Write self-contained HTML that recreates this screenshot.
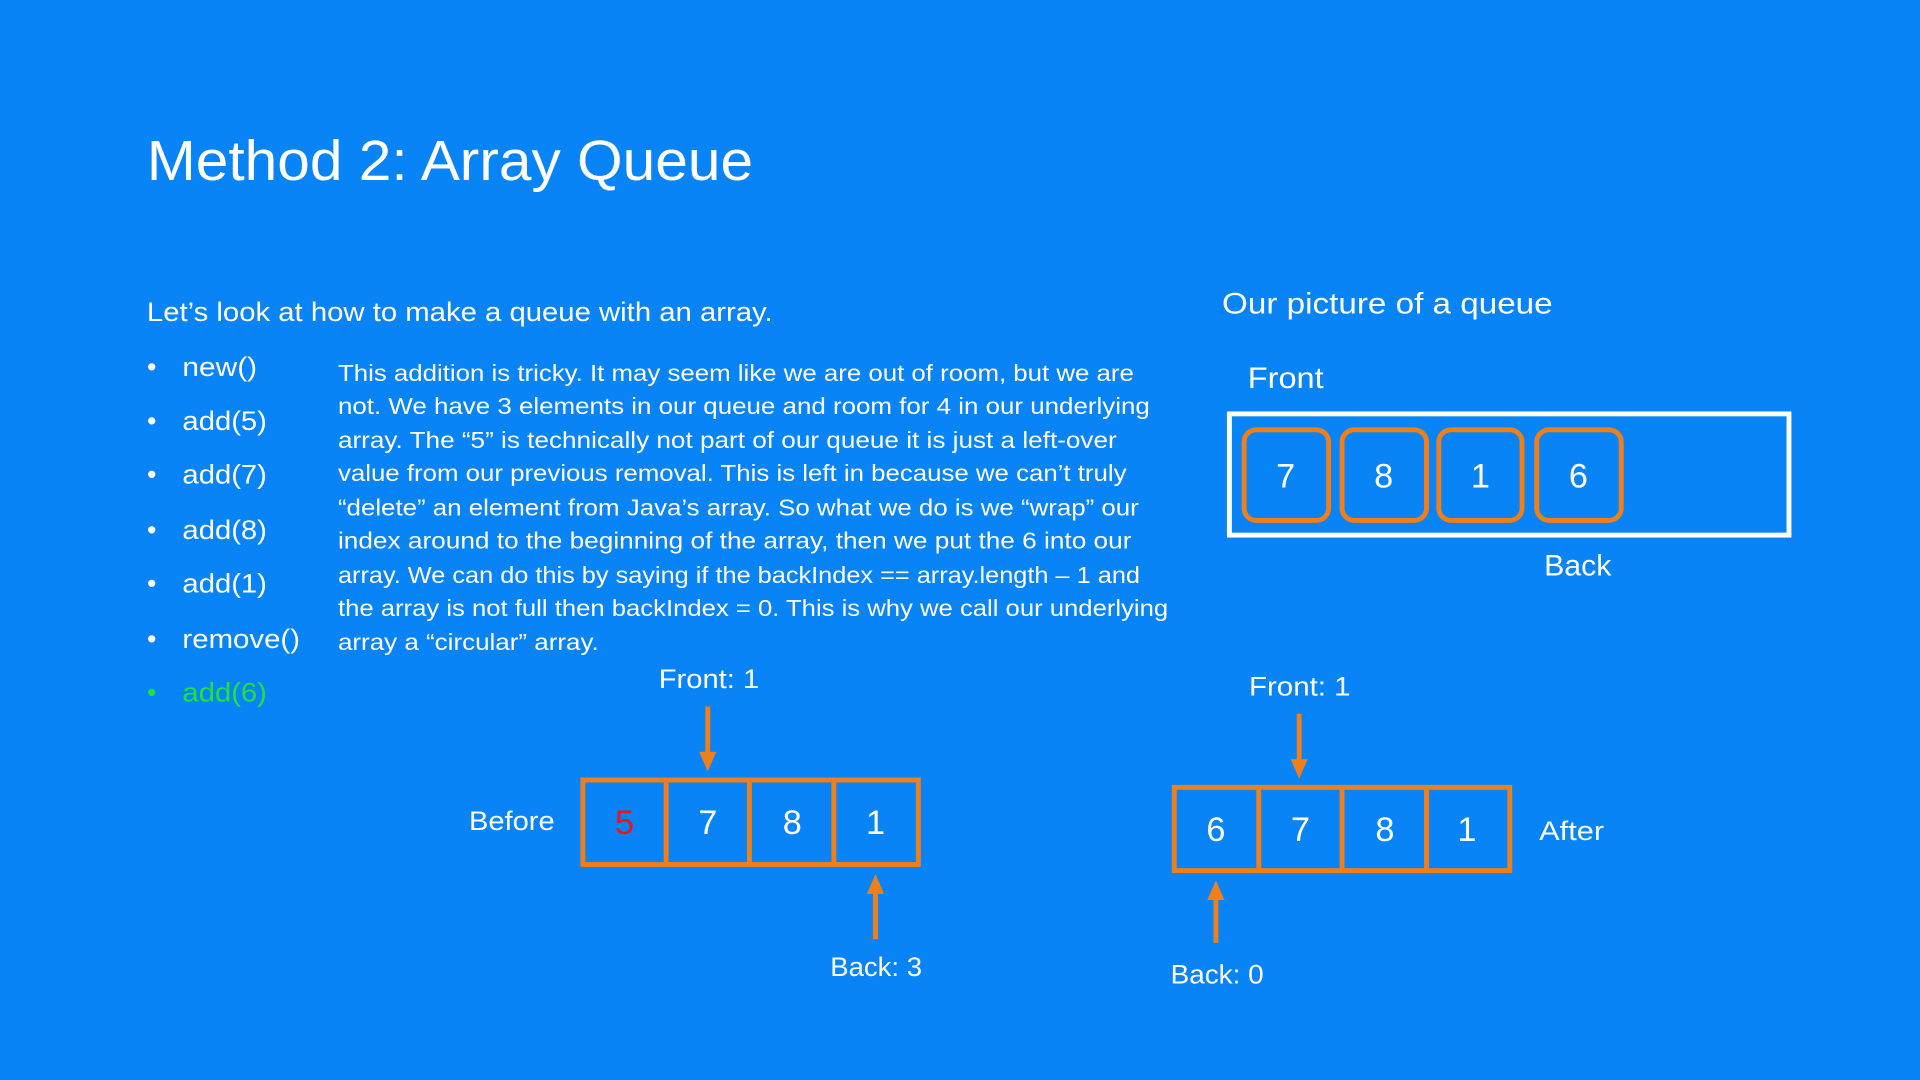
<!DOCTYPE html>
<html><head><meta charset="utf-8"><style>
html,body{margin:0;padding:0;background:#0984F7;}
svg{display:block}
text{font-family:"Liberation Sans",sans-serif;fill:#fff}
</style></head><body>
<svg width="1920" height="1080" viewBox="0 0 1568 882" xmlns="http://www.w3.org/2000/svg">
<rect width="1568" height="882" fill="#0984F7"/>
<text x="120" y="147" font-size="46" textLength="495" lengthAdjust="spacingAndGlyphs">Method 2: Array Queue</text>
<text x="120" y="262" font-size="22" textLength="511" lengthAdjust="spacingAndGlyphs">Let’s look at how to make a queue with an array.</text>
<g font-size="22">
<text x="120" y="307">•</text><text x="149" y="307" textLength="61" lengthAdjust="spacingAndGlyphs">new()</text>
<text x="120" y="351">•</text><text x="149" y="351" textLength="69" lengthAdjust="spacingAndGlyphs">add(5)</text>
<text x="120" y="395">•</text><text x="149" y="395" textLength="69" lengthAdjust="spacingAndGlyphs">add(7)</text>
<text x="120" y="440">•</text><text x="149" y="440" textLength="69" lengthAdjust="spacingAndGlyphs">add(8)</text>
<text x="120" y="484">•</text><text x="149" y="484" textLength="69" lengthAdjust="spacingAndGlyphs">add(1)</text>
<text x="120" y="529">•</text><text x="149" y="529" textLength="96" lengthAdjust="spacingAndGlyphs">remove()</text>
<text x="120" y="573" style="fill:#1ee33a">•</text><text x="149" y="573" style="fill:#1ee33a" textLength="69" lengthAdjust="spacingAndGlyphs">add(6)</text>
</g>
<g font-size="19" lengthAdjust="spacingAndGlyphs">
<text x="276" y="311" textLength="650" lengthAdjust="spacingAndGlyphs">This addition is tricky. It may seem like we are out of room, but we are</text>
<text x="276" y="338" textLength="663" lengthAdjust="spacingAndGlyphs">not. We have 3 elements in our queue and room for 4 in our underlying</text>
<text x="276" y="366" textLength="636" lengthAdjust="spacingAndGlyphs">array. The “5” is technically not part of our queue it is just a left-over</text>
<text x="276" y="393" textLength="644" lengthAdjust="spacingAndGlyphs">value from our previous removal. This is left in because we can’t truly</text>
<text x="276" y="421" textLength="654" lengthAdjust="spacingAndGlyphs">“delete” an element from Java’s array. So what we do is we “wrap” our</text>
<text x="276" y="448" textLength="648" lengthAdjust="spacingAndGlyphs">index around to the beginning of the array, then we put the 6 into our</text>
<text x="276" y="476" textLength="655" lengthAdjust="spacingAndGlyphs">array. We can do this by saying if the backIndex == array.length – 1 and</text>
<text x="276" y="503" textLength="678" lengthAdjust="spacingAndGlyphs">the array is not full then backIndex = 0. This is why we call our underlying</text>
<text x="276" y="531" textLength="213" lengthAdjust="spacingAndGlyphs">array a “circular” array.</text>
</g>
<text x="998" y="256" font-size="24" textLength="270" lengthAdjust="spacingAndGlyphs">Our picture of a queue</text>
<text x="1019" y="317" font-size="24" textLength="62" lengthAdjust="spacingAndGlyphs">Front</text>
<rect x="1004" y="338" width="457" height="99" fill="none" stroke="#fff" stroke-width="4"/>
<g fill="none" stroke="#F07F19" stroke-width="4">
<rect x="1016" y="351" width="69" height="74" rx="10"/>
<rect x="1096" y="351" width="69" height="74" rx="10"/>
<rect x="1175" y="351" width="68" height="74" rx="10"/>
<rect x="1255" y="351" width="69" height="74" rx="10"/>
</g>
<g font-size="28" text-anchor="middle">
<text x="1050" y="398">7</text><text x="1130" y="398">8</text><text x="1209" y="398">1</text><text x="1289" y="398">6</text>
</g>
<text x="1261" y="470" font-size="24" textLength="55" lengthAdjust="spacingAndGlyphs">Back</text>

<!-- Before -->
<text x="383" y="678" font-size="22" textLength="70" lengthAdjust="spacingAndGlyphs">Before</text>
<g fill="none" stroke="#F07F19" stroke-width="4">
<rect x="476" y="637" width="274" height="69"/>
<line x1="544" y1="637" x2="544" y2="706"/><line x1="612" y1="637" x2="612" y2="706"/><line x1="681" y1="637" x2="681" y2="706"/>
<rect x="959" y="643" width="274" height="68"/>
<line x1="1028" y1="643" x2="1028" y2="711"/><line x1="1096" y1="643" x2="1096" y2="711"/><line x1="1165" y1="643" x2="1165" y2="711"/>
<line x1="578" y1="577" x2="578" y2="616"/>
<line x1="715" y1="767" x2="715" y2="728"/>
<line x1="1061" y1="583" x2="1061" y2="622"/>
<line x1="993" y1="770" x2="993" y2="733"/>
</g>
<g fill="#F07F19">
<polygon points="571,614 585,614 578,630"/>
<polygon points="708,730 722,730 715,714"/>
<polygon points="1054,620 1068,620 1061,636"/>
<polygon points="986,735 1000,735 993,719"/>
</g>
<g font-size="28" text-anchor="middle">
<text x="510" y="681" style="fill:#e8141e">5</text><text x="578" y="681">7</text><text x="647" y="681">8</text><text x="715" y="681">1</text>
<text x="993" y="687">6</text><text x="1062" y="687">7</text><text x="1131" y="687">8</text><text x="1198" y="687">1</text>
</g>
<text x="538" y="562" font-size="22" textLength="82" lengthAdjust="spacingAndGlyphs">Front: 1</text>
<text x="678" y="797" font-size="22" textLength="75" lengthAdjust="spacingAndGlyphs">Back: 3</text>
<text x="1020" y="568" font-size="22" textLength="83" lengthAdjust="spacingAndGlyphs">Front: 1</text>
<text x="1257" y="686" font-size="22" textLength="53" lengthAdjust="spacingAndGlyphs">After</text>
<text x="956" y="803" font-size="22" textLength="76" lengthAdjust="spacingAndGlyphs">Back: 0</text>
</svg>
</body></html>
